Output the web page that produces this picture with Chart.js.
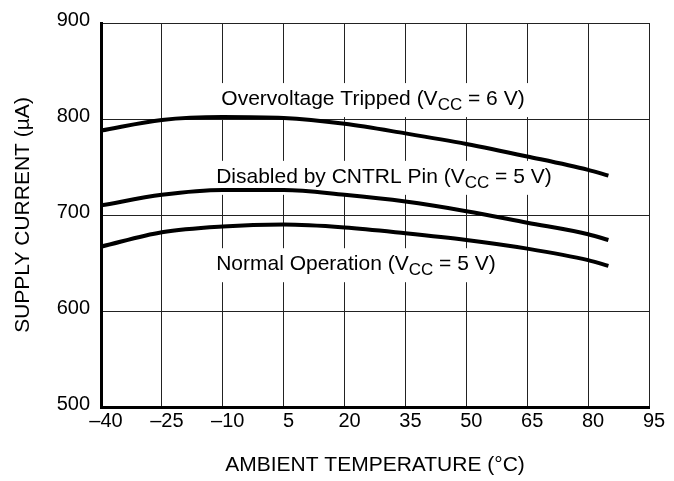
<!DOCTYPE html>
<html>
<head>
<meta charset="utf-8">
<script src="https://cdn.jsdelivr.net/npm/chart.js"></script>
<style>
  html, body { margin: 0; padding: 0; background: #fff; }
  #wrap { width: 674px; height: 481px; }
</style>
</head>
<body>
<div id="wrap"><canvas id="supplyChart" width="674" height="481"></canvas></div>
<script>
// SUPPLY CURRENT vs AMBIENT TEMPERATURE

// temperature points (deg C)
const temps = [-40, -25, -10, 5, 20, 35, 50, 65, 80, 85];
// supply current (uA) for each curve
const overvoltage = [788, 799, 802, 801, 795, 785, 774, 761, 747, 741];
const disabled = [710, 721, 726, 726, 721, 714, 704, 692, 680, 674];
const normal = [667, 682, 688, 690, 687, 681, 674, 665, 653, 647];

const xTicks = [-40, -25, -10, 5, 20, 35, 50, 65, 80, 95];
const yTicks = [500, 600, 700, 800, 900];

// curve captions: main text, subscript, rest
const captions = [
  ['Overvoltage Tripped (V', 'CC', ' = 6 V)'],
  ['Disabled by CNTRL Pin (V', 'CC', ' = 5 V)'],
  ['Normal Operation (V', 'CC', ' = 5 V)']
];

const FONT = '"Liberation Sans", Arial, Helvetica, sans-serif';

const toPoints = (ys) => temps.map((t, i) => ({ x: t, y: ys[i] }));

const curve = (label, ys) => ({
  label: label,
  data: toPoints(ys),
  borderColor: '#000',
  borderWidth: 4,
  pointRadius: 0,
  cubicInterpolationMode: 'monotone',
  fill: false
});

// white boxes + captions, drawn over the grid but under the curves
const captionPlugin = {
  id: 'captions',
  beforeDatasetsDraw(chart, args, opts) {
    const { ctx, scales } = chart;
    ctx.save();
    opts.spots.forEach((spot, i) => {
      const [main, sub, tail] = captions[i];
      const cx = scales.x.getPixelForValue(spot.x);
      const base = scales.y.getPixelForValue(spot.y);
      ctx.font = '21px ' + FONT;
      const w1 = ctx.measureText(main).width;
      const w3 = ctx.measureText(tail).width;
      ctx.font = '17px ' + FONT;
      const w2 = ctx.measureText(sub).width;
      const total = w1 + w2 + w3;
      let x = cx - total / 2;

      ctx.fillStyle = '#fff';
      ctx.fillRect(x - 4, base - 22, total + 8, 34);

      ctx.fillStyle = '#000';
      ctx.textBaseline = 'alphabetic';
      ctx.textAlign = 'left';
      ctx.font = '21px ' + FONT;
      ctx.fillText(main, x, base);
      x += w1;
      ctx.font = '17px ' + FONT;
      ctx.fillText(sub, x, base + 5);
      x += w2;
      ctx.font = '21px ' + FONT;
      ctx.fillText(tail, x, base);
    });
    ctx.restore();
  }
};

new Chart(document.getElementById('supplyChart'), {
  type: 'line',
  data: {
    datasets: [
      curve('Overvoltage Tripped', overvoltage),
      curve('Disabled by CNTRL Pin', disabled),
      curve('Normal Operation', normal)
    ]
  },
  options: {
    responsive: false,
    animation: false,
    layout: {
      padding: { top: 23, right: 25, left: 0, bottom: 0 }
    },
    scales: {
      x: {
        type: 'linear',
        min: -40,
        max: 95,
        afterBuildTicks: (s) => { s.ticks = xTicks.map(v => ({ value: v })); },
        afterFit: (s) => { s.height = 74; },
        grid: { color: '#222', lineWidth: 1, drawTicks: false },
        border: { color: '#000', width: 3 },
        ticks: {
          color: '#000',
          font: { size: 20, family: FONT },
          padding: 2,
          labelOffset: 5,
          maxRotation: 0,
          autoSkip: false,
          callback: (v) => (v < 0 ? '\u2013' + Math.abs(v) : String(v))
        },
        title: {
          display: true,
          text: 'AMBIENT TEMPERATURE (\u00B0C)',
          color: '#000',
          font: { size: 21, family: FONT },
          padding: { top: 0, bottom: 3 }
        }
      },
      y: {
        min: 500,
        max: 900,
        afterBuildTicks: (s) => { s.ticks = yTicks.map(v => ({ value: v })); },
        afterFit: (s) => { s.width = 101; },
        grid: { color: '#222', lineWidth: 1, drawTicks: false },
        border: { color: '#000', width: 3 },
        ticks: {
          color: '#000',
          font: { size: 20, family: FONT },
          padding: 11,
          labelOffset: -3
        },
        title: {
          display: true,
          text: 'SUPPLY CURRENT (\u00B5A)',
          color: '#000',
          font: { size: 21, family: FONT },
          padding: { top: 11, bottom: 0 }
        }
      }
    },
    plugins: {
      legend: { display: false },
      tooltip: { enabled: false },
      captions: {
        spots: [
          { x: 27, y: 814.5 },
          { x: 29.7, y: 733.5 },
          { x: 22.8, y: 642.5 }
        ]
      }
    }
  },
  plugins: [captionPlugin]
});
</script>
</body>
</html>
